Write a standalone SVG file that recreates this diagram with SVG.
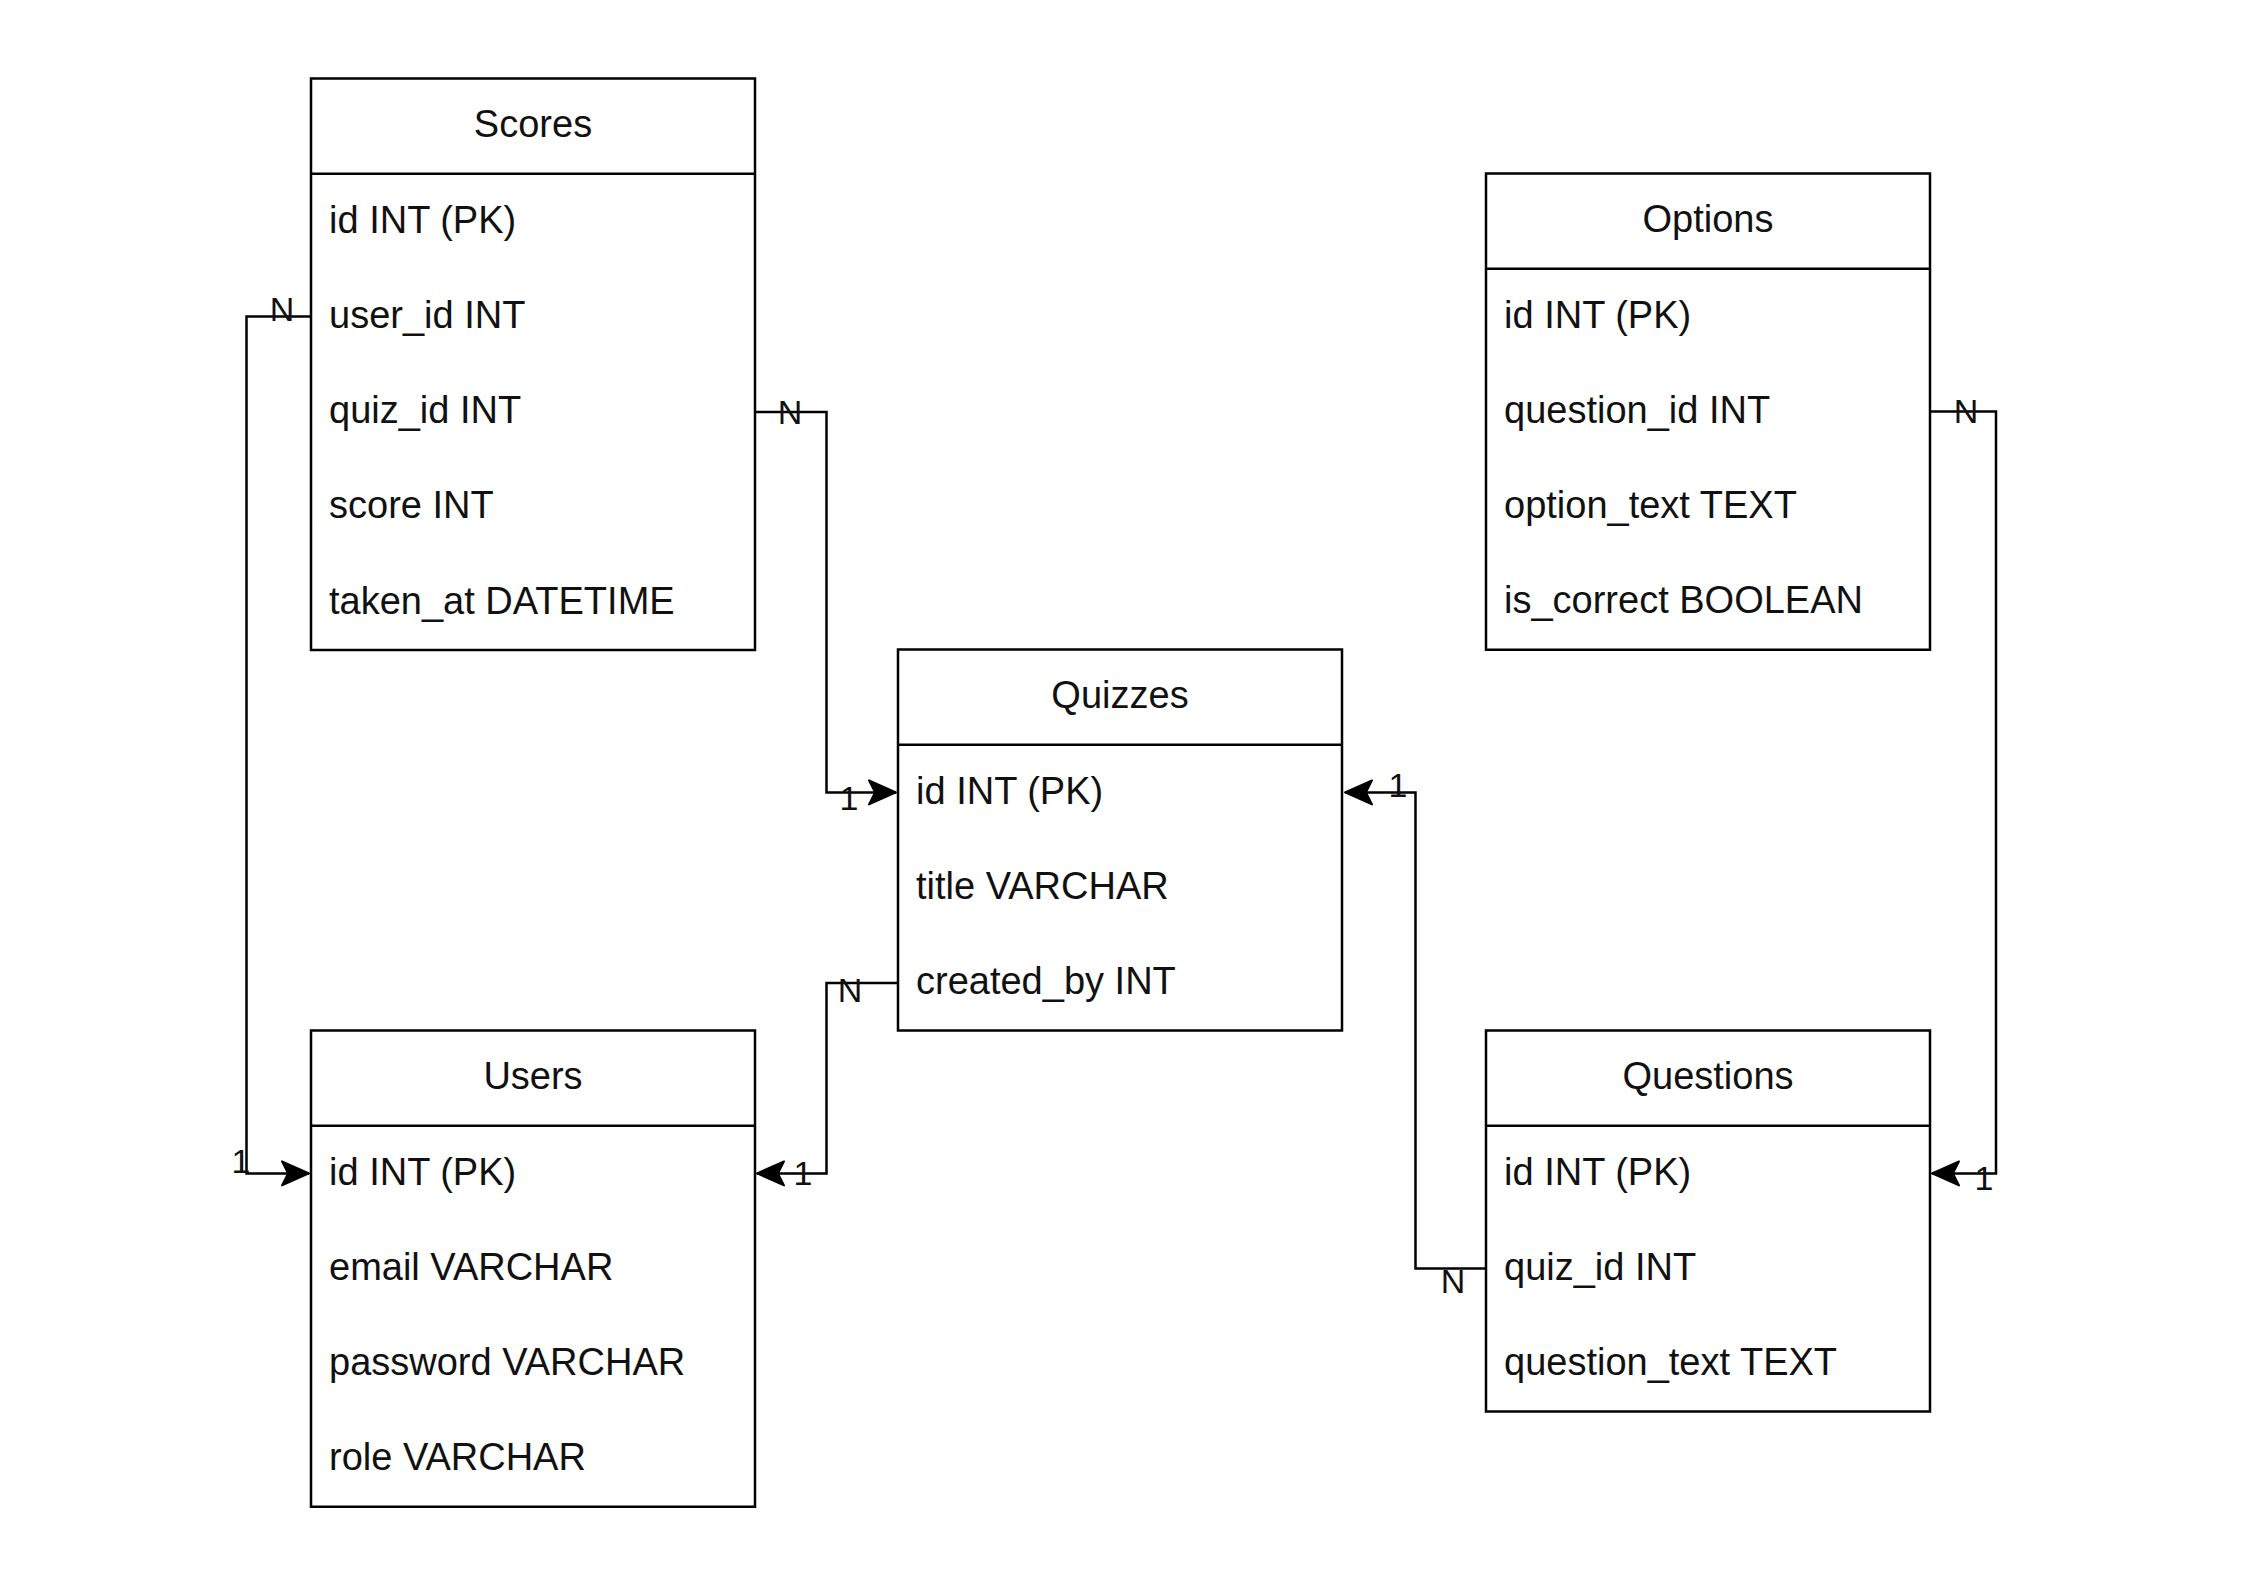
<svg xmlns="http://www.w3.org/2000/svg" width="2245" height="1587" viewBox="0 0 2245 1587">
<style>
.box{fill:#ffffff;stroke:#000;stroke-width:2.5}
.sep{stroke:#000;stroke-width:2.5}
.hd{font-family:"Liberation Sans",Arial,sans-serif;font-size:38px;fill:#111;text-anchor:middle}
.at{font-family:"Liberation Sans",Arial,sans-serif;font-size:38px;fill:#111}
.lb{font-family:"Liberation Sans",Arial,sans-serif;font-size:34px;fill:#111;text-anchor:middle}
.cn{fill:none;stroke:#000;stroke-width:2.5}
</style>
<defs>
<marker id="arr" markerUnits="userSpaceOnUse" viewBox="-30 -15 32 30" refX="0" refY="0" markerWidth="32" markerHeight="30" orient="auto">
<path d="M0,0 L-27,-12 L-21,0 L-27,12 Z" fill="#000" stroke="#000" stroke-width="2" stroke-linejoin="round"/>
</marker>
</defs>
<rect width="2245" height="1587" fill="#ffffff"/>

<g id="connectors">
<path class="cn" d="M311,316.6 H246.5 V1173.4 H309" marker-end="url(#arr)"/>
<path class="cn" d="M755,411.9 H826.5 V792.4 H896" marker-end="url(#arr)"/>
<path class="cn" d="M898,982.9 H826.5 V1173.4 H757" marker-end="url(#arr)"/>
<path class="cn" d="M1486,1268.6 H1415.5 V792.4 H1345" marker-end="url(#arr)"/>
<path class="cn" d="M1930,411.6 H1996 V1173.4 H1932" marker-end="url(#arr)"/>
<g id="connector-labels">
<text class="lb" x="282" y="321">N</text>
<text class="lb" x="241" y="1173">1</text>
<text class="lb" x="790" y="424">N</text>
<text class="lb" x="849" y="810">1</text>
<text class="lb" x="850" y="1002">N</text>
<text class="lb" x="803" y="1185">1</text>
<text class="lb" x="1453" y="1293">N</text>
<text class="lb" x="1398" y="797">1</text>
<text class="lb" x="1966" y="423">N</text>
<text class="lb" x="1984" y="1190">1</text>
</g>
</g>

<g id="scores">
<rect class="box" x="311" y="78.5" width="444" height="571.5"/>
<line class="sep" x1="311" y1="173.75" x2="755" y2="173.75"/>
<text class="hd" x="533" y="137">Scores</text>
<text class="at" x="329" y="232.5">id INT (PK)</text>
<text class="at" x="329" y="327.5">user_id INT</text>
<text class="at" x="329" y="423">quiz_id INT</text>
<text class="at" x="329" y="518">score INT</text>
<text class="at" x="329" y="613.5">taken_at DATETIME</text>
</g>

<g id="options">
<rect class="box" x="1486" y="173.5" width="444" height="476.25"/>
<line class="sep" x1="1486" y1="268.75" x2="1930" y2="268.75"/>
<text class="hd" x="1708" y="232">Options</text>
<text class="at" x="1504" y="327.5">id INT (PK)</text>
<text class="at" x="1504" y="422.5">question_id INT</text>
<text class="at" x="1504" y="518">option_text TEXT</text>
<text class="at" x="1504" y="613">is_correct BOOLEAN</text>
</g>

<g id="quizzes">
<rect class="box" x="898" y="649.5" width="444" height="381"/>
<line class="sep" x1="898" y1="744.75" x2="1342" y2="744.75"/>
<text class="hd" x="1120" y="708">Quizzes</text>
<text class="at" x="916" y="803.5">id INT (PK)</text>
<text class="at" x="916" y="898.5">title VARCHAR</text>
<text class="at" x="916" y="994">created_by INT</text>
</g>

<g id="users">
<rect class="box" x="311" y="1030.5" width="444" height="476.25"/>
<line class="sep" x1="311" y1="1125.75" x2="755" y2="1125.75"/>
<text class="hd" x="533" y="1089">Users</text>
<text class="at" x="329" y="1184.5">id INT (PK)</text>
<text class="at" x="329" y="1279.5">email VARCHAR</text>
<text class="at" x="329" y="1375">password VARCHAR</text>
<text class="at" x="329" y="1470">role VARCHAR</text>
</g>

<g id="questions">
<rect class="box" x="1486" y="1030.5" width="444" height="381"/>
<line class="sep" x1="1486" y1="1125.75" x2="1930" y2="1125.75"/>
<text class="hd" x="1708" y="1089">Questions</text>
<text class="at" x="1504" y="1184.5">id INT (PK)</text>
<text class="at" x="1504" y="1279.5">quiz_id INT</text>
<text class="at" x="1504" y="1375">question_text TEXT</text>
</g>
</svg>
